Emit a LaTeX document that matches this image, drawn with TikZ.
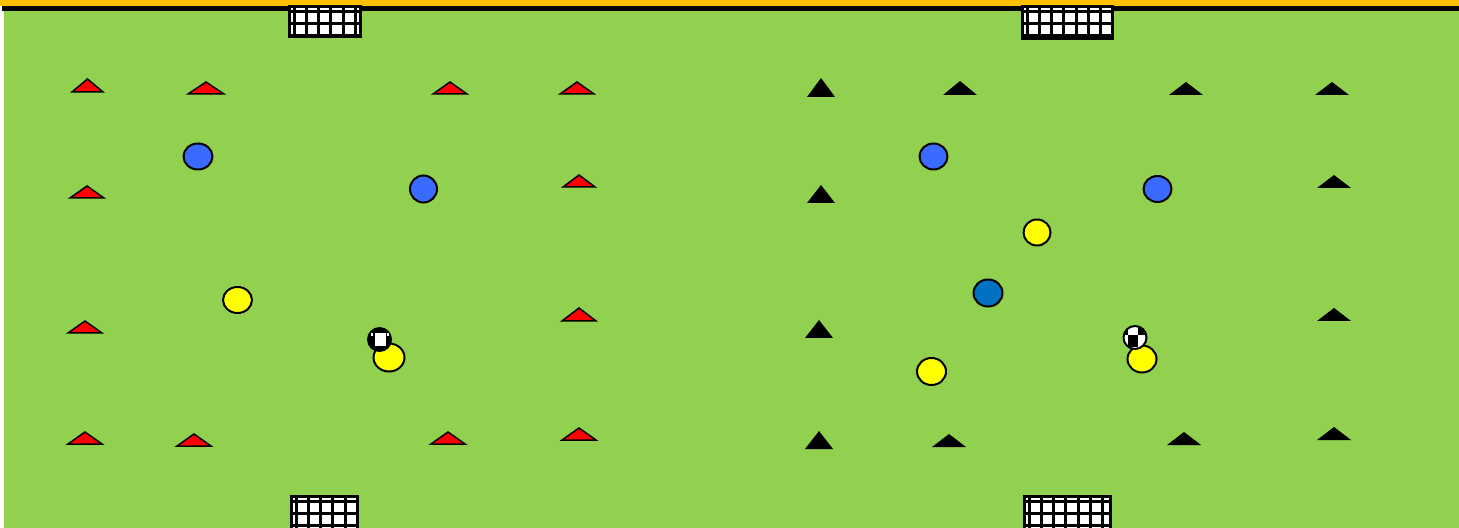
\documentclass[tikz,border=0pt]{standalone}
\usepackage{xcolor,tikz}
\usetikzlibrary{positioning,calc}

\definecolor{pitchgreen}{HTML}{92D050}
\definecolor{barorange}{HTML}{FFC000}
\definecolor{teamblue}{HTML}{3A6BFF}
\definecolor{deepblue}{HTML}{0070C0}
\definecolor{teamyellow}{HTML}{FFFF00}

% goal net: #1,#2 top left corner, #3,#4 bottom right corner
\newcommand\drawgoal[4]{%
 \begin{scope}
  \clip (#1,#2) rectangle (#3,#4);
  \fill[white] (#1,#2) rectangle (#3,#4);
  \foreach \k in {0,...,8}
   \draw[netline] ({#1+4.7+12.2*\k},#2) -- ({#1+4.7+12.2*\k},#4);
  \foreach \k in {0,...,3}
   \draw[netline] (#1,{#2+4.8+12.2*\k}) -- (#3,{#2+4.8+12.2*\k});
 \end{scope}
 \draw[netline] (#1,#2) rectangle (#3,#4);
}

\begin{document}
\begin{tikzpicture}[x=0.5pt,y=-0.5pt,
 netline/.style={line width=1.5pt},
 player/.style={draw=black,line width=1pt,fill=#1},
 redcone/.style={draw=black,line width=0.75pt,fill=red},
 blackcone/.style={fill=black}]
 \useasboundingbox (0,0) rectangle (1459,528);
 % pitch and top band
 \fill[barorange] (0,0) rectangle (1459,6);
 \fill[black] (2,6) rectangle (1459,11);
 \fill[pitchgreen] (4,11) rectangle (1459,528);
 % goals
 \drawgoal{289.5}{6.5}{360.5}{36.5}
 \drawgoal{1022.5}{6.5}{1112.5}{38.5}
 \drawgoal{291.5}{496.5}{357.5}{532}
 \drawgoal{1024.5}{496.5}{1110.5}{532}
 % red cones (centre / base / width / height)
 \foreach \cx/\by/\w/\h in {87.5/92/31/13, 206/94/36/12, 450/94/34/12, 577/94/34/12,
   87/198/34/12, 579/187/32/12, 85/333/34/12, 579/321/34/13,
   85/444/34/12, 194/446/34/12, 448/444/34/12, 579/440/34/12}
  \filldraw[redcone] ({\cx-\w/2},\by) -- (\cx,{\by-\h}) -- ({\cx+\w/2},\by) -- cycle;
 % black cones
 \foreach \cx/\by/\w/\h in {821/97/28/19, 960/95/34/14, 1186/95/34/13, 1332/95/34/13,
   821/203/28/18, 1334/188/34/13, 819/338/28/18, 1334/321/34/13,
   819/449/28/18, 949/447/34/13, 1184/445/34/13, 1334/440/34/13}
  \fill[blackcone] ({\cx-\w/2},\by) -- (\cx,{\by-\h}) -- ({\cx+\w/2},\by) -- cycle;
 % players
 \draw[player=teamblue] (198,156.5) ellipse[x radius=14.5,y radius=13];
 \draw[player=teamblue] (423.5,189) ellipse[x radius=13.5,y radius=13.5];
 \draw[player=teamblue] (933.5,156.5) ellipse[x radius=14,y radius=13];
 \draw[player=teamblue] (1157.5,189) ellipse[x radius=14,y radius=13];
 \draw[player=deepblue] (988,293) ellipse[x radius=14.5,y radius=13.5];
 \draw[player=teamyellow] (237.5,300) ellipse[x radius=14.5,y radius=13];
 \draw[player=teamyellow] (389,357.5) ellipse[x radius=15.5,y radius=14];
 \draw[player=teamyellow] (1037,232.5) ellipse[x radius=13.5,y radius=13];
 \draw[player=teamyellow] (931.5,371.5) ellipse[x radius=14.5,y radius=13.5];
 \draw[player=teamyellow] (1142,359) ellipse[x radius=14.5,y radius=13.5];
 % balls
 \fill[black] (379.5,339.5) circle[radius=12.5];
 \fill[white] (374.5,333.5) rectangle (386,346);
 \fill[white] (371,333) rectangle (373,336);
 \fill[white] (387,333) rectangle (389,336);
 \begin{scope}
  \clip (1135,337.5) circle[radius=11.5];
  \fill[white] (1135,337.5) circle[radius=11.5];
  \fill[black] (1128,335) rectangle (1137.5,347);
  \fill[black] (1137.5,326) rectangle (1147,335);
  \fill[black] (1122,326) rectangle (1128,335);
 \end{scope}
 \draw[line width=1pt] (1135,337.5) circle[radius=11.5];
\end{tikzpicture}
\end{document}
